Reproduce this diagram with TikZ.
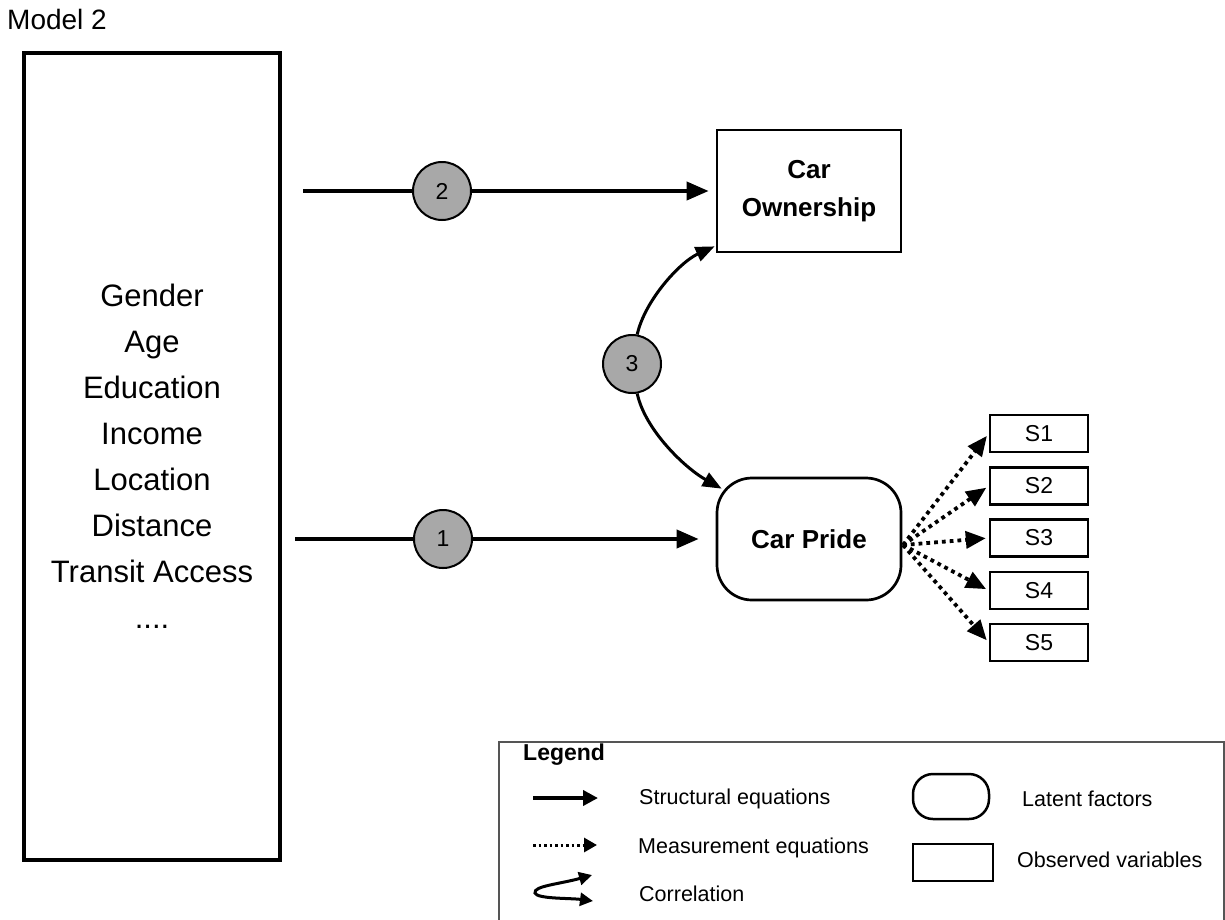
\documentclass[tikz,border=0pt]{standalone}
\usepackage{fontspec}
\setmainfont{Liberation Sans}
\usetikzlibrary{arrows.meta,calc}

\definecolor{numgray}{HTML}{A8A8A8}
\definecolor{legborder}{HTML}{555555}

\begin{document}
\begin{tikzpicture}[x=1pt,y=-1pt,
  plainline/.style={line width=3.8pt},
  struct/.style={line width=3.8pt, -{Triangle[length=22pt,width=18pt]}},
  meas/.style={line width=3.8pt, dash pattern=on 3.8pt off 4pt, -{Triangle[length=20pt,width=17pt]}},
  corr/.style={line width=3pt, -{Triangle[length=19pt,width=15pt]}},
  pathnum/.style={circle, draw, line width=2pt, fill=numgray, minimum size=58pt, inner sep=0pt,
                  font=\fontsize{23}{27}\selectfont},
  obsbox/.style={draw, line width=2.5pt, rectangle, inner sep=0pt},
  sbox/.style={obsbox, minimum width=98pt, minimum height=37pt, font=\fontsize{23}{27}\selectfont},
  legtext/.style={anchor=base west, inner sep=0pt, font=\fontsize{21.5}{26}\selectfont},
]
\useasboundingbox (0,0) rectangle (1225,919);

% title
\node[anchor=base west, inner sep=0pt, font=\fontsize{28}{32}\selectfont] (title) at (7,29) {Model 2};

% block of explanatory variables
\node[draw, line width=4pt, minimum width=256pt, minimum height=807pt, align=center, inner sep=0pt,
      font=\fontsize{31}{46}\selectfont] (demo) at (152,456.5)
  {Gender\\Age\\Education\\Income\\Location\\Distance\\Transit Access\\....};

% outcome and latent factor
\node[obsbox, line width=2.7pt, minimum width=184pt, minimum height=122pt, align=center,
      font=\bfseries\fontsize{26}{38}\selectfont] (own) at (809,191) {Car\\Ownership};
\node[draw, line width=2.7pt, rounded corners=35pt, minimum width=184pt, minimum height=122pt,
      font=\bfseries\fontsize{26}{31}\selectfont] (pride) at (809,539) {Car Pride};

% indicators
\node[sbox] (s1) at (1039,433.5) {S1};
\node[sbox] (s2) at (1039,486) {S2};
\node[sbox] (s3) at (1039,538) {S3};
\node[sbox] (s4) at (1039,590.5) {S4};
\node[sbox] (s5) at (1039,642.5) {S5};

% path labels
\node[pathnum] (c2) at (442,191) {2};
\node[pathnum] (c1) at (443,539) {1};
\node[pathnum] (c3) at (632,364) {3};

% free ends
\coordinate (in2) at (303,191);
\coordinate (in1) at (295,539);
\coordinate (fan) at (903,545);

% structural paths
\draw[plainline] (in2) -- (c2);
\draw[struct, shorten >=7pt] (c2) -- (own);
\draw[plainline] (in1) -- (c1);
\draw[struct, shorten >=17pt] (c1) -- (pride);

% correlation through path 3
\draw[corr] (c3.80) .. controls (645,300) and (680,262) .. ([shift={(-1,-7)}]own.south west);
\draw[corr] (c3.-80) .. controls (645,430) and (685,468) .. ([shift={(6,12)}]pride.north west);

% measurement paths
\foreach \s in {s1,s2,s3,s4,s5}
  \draw[meas, shorten >=3pt] (fan) -- (\s.west);

% legend
\node[draw=legborder, line width=1.5pt, minimum width=725pt, minimum height=200pt, anchor=north west,
      inner sep=0pt] (legend) at (498,741) {};
\node[anchor=base west, inner sep=0pt, font=\bfseries\fontsize{23}{28}\selectfont] (legtitle) at (523,760) {Legend};

\coordinate (ls0) at (533,798);
\coordinate (ls1) at (598,798);
\draw[line width=4pt, -{Triangle[length=15pt,width=15pt]}] (ls0) -- (ls1);
\node[legtext] (lstruct) at (639,804) {Structural equations};

\coordinate (lm0) at (533,845);
\coordinate (lm1) at (597,845);
\draw[line width=3pt, dash pattern=on 2.5pt off 3pt, -{Triangle[length=13pt,width=14pt]}] (lm0) -- (lm1);
\node[legtext] (lmeas) at (638,853) {Measurement equations};

\coordinate (lc0) at (592,875);
\coordinate (lc1) at (535,893);
\coordinate (lc2) at (593,901);
\draw[line width=3pt, {Triangle[length=13pt,width=13pt]}-{Triangle[length=13pt,width=13pt]}]
  (lc0) .. controls (560,884) and (533,886) .. (lc1) .. controls (537,899) and (570,898) .. (lc2);
\node[legtext] (lcorr) at (639,901) {Correlation};

\node[draw, line width=2.5pt, rounded corners=20pt, minimum width=76pt, minimum height=45pt] (latent) at (951,796.5) {};
\node[legtext] (llat) at (1022,806) {Latent factors};
\node[obsbox, minimum width=80pt, minimum height=37pt] (observed) at (953,862.5) {};
\node[legtext] (lobs) at (1017,867) {Observed variables};
\end{tikzpicture}
\end{document}
